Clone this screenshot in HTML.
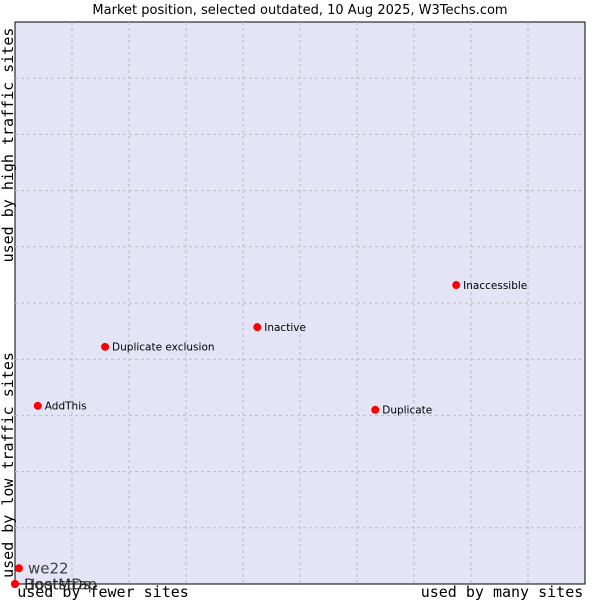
<!DOCTYPE html>
<html><head><meta charset="utf-8"><style>
html,body{margin:0;padding:0;background:#fff;width:600px;height:600px;overflow:hidden}
svg{display:block}
</style></head><body>
<svg width="600" height="600" xmlns="http://www.w3.org/2000/svg">
<text x="300" y="14" text-anchor="middle" font-family="'DejaVu Sans','Liberation Sans',sans-serif" font-size="13" fill="#000">Market position, selected outdated, 10 Aug 2025, W3Techs.com</text>
<rect x="15" y="22" width="570" height="562" fill="#e4e4f7" stroke="#000" stroke-width="1"/>
<g id="grid"></g>
<text transform="translate(13,145) rotate(-90)" text-anchor="middle" font-family="'DejaVu Sans Mono','Liberation Mono',monospace" font-size="15">used by high traffic sites</text>
<text transform="translate(13,465) rotate(-90)" text-anchor="middle" font-family="'DejaVu Sans Mono','Liberation Mono',monospace" font-size="15">used by low traffic sites</text>
<text x="103" y="597" text-anchor="middle" font-family="'DejaVu Sans Mono','Liberation Mono',monospace" font-size="15">used by fewer sites</text>
<text x="502" y="597" text-anchor="middle" font-family="'DejaVu Sans Mono','Liberation Mono',monospace" font-size="15">used by many sites</text>
<g id="points"></g>
</svg>
<script>
const names = ["Inaccessible","Inactive","Duplicate exclusion","AddThis","Duplicate","we22","Bootstrap","HostMDs"];
const xValues = [77.4,42.5,15.8,4.0,63.2,0.7,0,0];
const yValues = [53.2,45.7,42.2,31.7,31.0,2.8,0,0];
const labelSizes = [10.5,10.5,10.5,10.5,10.5,15,15,15];
const NS="http://www.w3.org/2000/svg";
const L=15,T=22,W=570,H=562;
function xs(v){return L+v/100*W;}
function ys(v){return T+H-v/100*H;}
const grid=document.getElementById('grid');
for(let k=1;k<10;k++){
  const v=document.createElementNS(NS,'line');
  
  
  v.setAttribute('x1',xs(k*10));v.setAttribute('x2',xs(k*10));v.setAttribute('y1',T);v.setAttribute('y2',T+H);
  v.setAttribute('stroke','#bdbdbd');v.setAttribute('stroke-dasharray','3,3');
  grid.appendChild(v);
  const h=document.createElementNS(NS,'line');
  
  
  h.setAttribute('x1',L);h.setAttribute('x2',L+W);h.setAttribute('y1',ys(k*10));h.setAttribute('y2',ys(k*10));
  h.setAttribute('stroke','#bdbdbd');h.setAttribute('stroke-dasharray','3,3');
  grid.appendChild(h);
}
const pts=document.getElementById('points');
names.forEach((n,i)=>{
  const cx=xs(xValues[i]),cy=ys(yValues[i]);
  const c=document.createElementNS(NS,'circle');
  
  
  c.setAttribute('cx',cx);c.setAttribute('cy',cy);c.setAttribute('r',4);c.setAttribute('fill','#ff0000');
  pts.appendChild(c);
  const t=document.createElementNS(NS,'text');
  
  
  const fs=labelSizes[i];
  t.setAttribute('x',cx+(fs>12?9:7));t.setAttribute('y',cy+fs*0.36);
  t.setAttribute('font-family',"'DejaVu Sans','Liberation Sans',sans-serif");
  t.setAttribute('font-size',fs);
  t.setAttribute('fill',fs>12?'#222':'#000');
  if(fs>12)t.setAttribute('fill-opacity','0.85');
  t.textContent=n;
  pts.appendChild(t);
});
</script>
</body></html>
